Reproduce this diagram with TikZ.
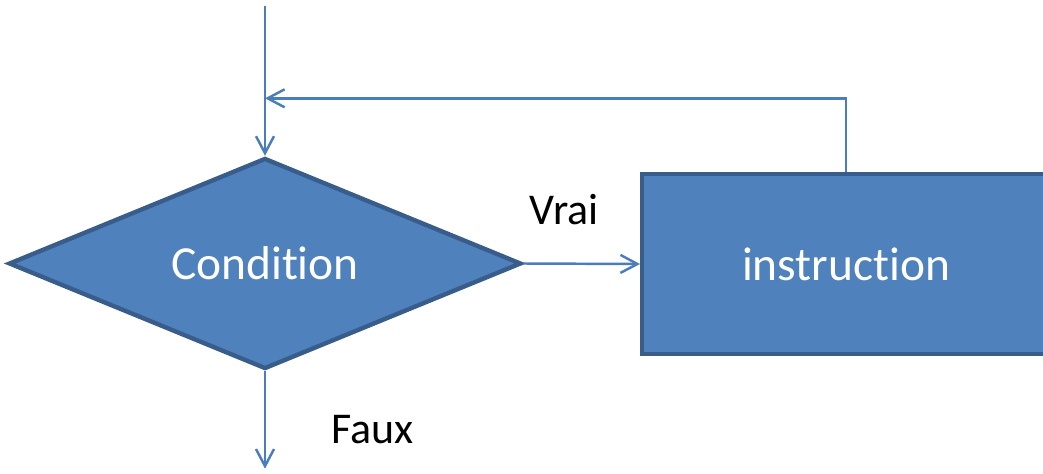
\documentclass[tikz,border=0pt]{standalone}
\usepackage{fontspec}
\setmainfont{Carlito}[Ligatures=NoCommon]
\usepackage{xcolor}
\usetikzlibrary{arrows.meta,positioning,shapes.geometric,calc}
\definecolor{shapefill}{HTML}{4F81BD}
\definecolor{shapeline}{HTML}{385D8A}
\definecolor{flowline}{HTML}{4A7EBB}
\tikzset{
  decision/.style={draw=shapeline, line width=2.5pt, fill=shapefill, diamond, shape aspect=2.5, inner sep=0pt, minimum width=10.25cm, minimum height=4.22cm, text=white, font=\fontsize{27}{30}\selectfont},
  action/.style={draw=shapeline, line width=2.5pt, fill=shapefill, rectangle, inner sep=0pt, minimum width=8.15cm, minimum height=3.6cm, text=white, font=\fontsize{27}{30}\selectfont},
  arrow/.style={-{Straight Barb[length=3.4mm,width=3.6mm]}, draw=flowline, line width=1.4pt},
  lbl/.style={text=black, inner sep=0pt, font=\fontsize{25}{28}\selectfont}
}
\begin{document}
\begin{tikzpicture}
  \useasboundingbox (0,0) rectangle (20.86,-9.46);
  \node[decision] (cond) at (5.3,-5.27) {Condition};
  \node[action] (instr) at (16.92,-5.28) {instruction};

  \coordinate[above=3.0cm of cond.north] (start);
  \coordinate[above=1.15cm of cond.north] (join);
  \coordinate[below=1.95cm of cond.south] (exit);

  \draw[arrow] (start) -- (cond.north);
  \draw[arrow] (cond.east) -- node[lbl, pos=0.35, above=0.75cm] {Vrai} (instr.west);
  \draw[arrow] (instr.north) |- (join);
  \draw[arrow] (cond.south) -- node[lbl, pos=0.6, right=1.3cm] {Faux} (exit);
\end{tikzpicture}
\end{document}
